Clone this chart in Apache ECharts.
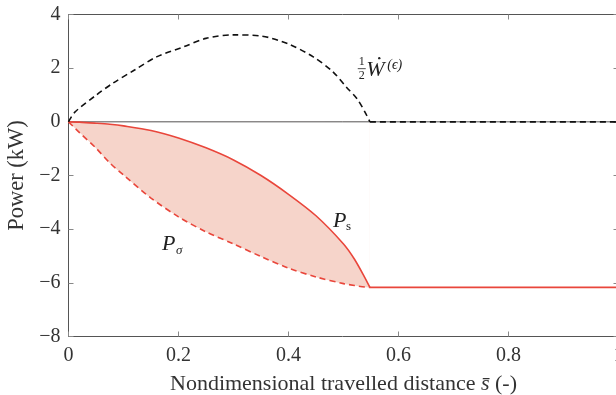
<!DOCTYPE html>
<html><head><meta charset="utf-8">
<script src="https://cdn.jsdelivr.net/npm/echarts@6/dist/echarts.min.js"></script>
<style>html,body{margin:0;padding:0;background:#fff}#c{width:616px;height:395px}</style>
</head><body><div id="c"></div>
<script>
// ---- data ----
const xRed   = [0, 0.02, 0.05, 0.075, 0.1, 0.15, 0.2, 0.25, 0.3, 0.35, 0.4, 0.45, 0.5, 0.52, 0.54, 0.548];
const pS     = [0, -0.01, -0.05, -0.09, -0.15, -0.32, -0.6, -0.97, -1.42, -2.0, -2.7, -3.5, -4.55, -5.12, -5.85, -6.17];
const pSigma = [0, -0.4, -0.98, -1.53, -1.98, -2.84, -3.54, -4.1, -4.55, -5.02, -5.45, -5.78, -6.03, -6.1, -6.16, -6.17];
const xFlat  = [0.548, 1.0];
const pFlat  = [-6.17, -6.17];
const xW     = [0, 0.012, 0.05, 0.08, 0.12, 0.16, 0.21, 0.25, 0.3, 0.35, 0.4, 0.445, 0.48, 0.505, 0.525, 0.542, 0.548];
const halfW  = [0, 0.37, 0.99, 1.43, 1.93, 2.42, 2.8, 3.11, 3.24, 3.2, 2.9, 2.42, 1.88, 1.3, 0.85, 0.25, 0];
const xWFlat = [0.548, 1.0];
const wFlat  = [0, 0];

const RED = '#e9463b', FILL = '#f6d4ca', AX = '#555', TXT = '#333';
const FONT = '"Liberation Serif", "DejaVu Serif", serif';

const zip = (xs, ys) => xs.map((x, i) => [x, ys[i]]);

const chart = echarts.init(document.getElementById('c'), null, {renderer: 'canvas'});
const fmt = v => (v < 0 ? '\u2212' + Math.abs(v) : String(v));
const axisCommon = {
  axisLine: {show: true, onZero: false, lineStyle: {color: AX, width: 1}},
  axisTick: {show: true, inside: true, length: 5, lineStyle: {color: '#888'}},
  splitLine: {show: false}
};
const smoothLine = {type: 'line', symbol: 'none', smooth: 0.3, silent: true};
chart.setOption({
  animation: false,
  grid: {left: 68.5, top: 14.5, right: -2.5, bottom: 58.5, containLabel: false, outerBoundsMode: 'none'},
  xAxis: [
    Object.assign({type: 'value', min: 0, max: 1, interval: 0.2, position: 'bottom',
      name: 'Nondimensional travelled distance {i|s\u0304} (-)', nameLocation: 'middle', nameGap: 37,
      nameTextStyle: {fontFamily: FONT, fontSize: 22, color: TXT, rich: {i: {fontFamily: FONT, fontSize: 22, fontStyle: 'italic', color: TXT}}},
      axisLabel: {fontFamily: FONT, fontSize: 20, color: TXT, margin: 9, formatter: v => fmt(v)}}, axisCommon),
    Object.assign({type: 'value', min: 0, max: 1, interval: 0.2, position: 'top', axisLabel: {show: false}}, axisCommon)
  ],
  yAxis: [
    Object.assign({type: 'value', min: -8, max: 4, interval: 2, position: 'left',
      name: 'Power (kW)', nameLocation: 'middle', nameGap: 39,
      nameTextStyle: {fontFamily: FONT, fontSize: 22.5, color: TXT},
      axisLabel: {fontFamily: FONT, fontSize: 20, color: TXT, margin: 8, formatter: v => fmt(v)}}, axisCommon),
    Object.assign({type: 'value', min: -8, max: 4, interval: 2, position: 'right', axisLabel: {show: false}}, axisCommon)
  ],
  series: [
    // band between P_sigma and P_s: salmon down to P_sigma, then white back up to P_s
    Object.assign({}, smoothLine, {name: 'bandFill', data: zip(xRed, pSigma),
      lineStyle: {opacity: 0}, areaStyle: {color: FILL, opacity: 1}, z: 1}),
    Object.assign({}, smoothLine, {name: 'bandMask', data: zip(xRed, pS),
      lineStyle: {opacity: 0}, areaStyle: {color: '#fff', opacity: 1}, z: 1}),
    {type: 'line', name: 'zero', data: [[0, 0], [1, 0]], symbol: 'none',
      lineStyle: {color: AX, width: 1}, silent: true, z: 2},
    Object.assign({}, smoothLine, {name: 'Psigma', data: zip(xRed, pSigma),
      lineStyle: {color: RED, width: 1.6, type: [6, 4]}, z: 3}),
    Object.assign({}, smoothLine, {name: 'Ps', data: zip(xRed, pS),
      lineStyle: {color: RED, width: 1.6}, z: 4}),
    {type: 'line', name: 'Pflat', data: zip(xFlat, pFlat), symbol: 'none', silent: true,
      lineStyle: {color: RED, width: 1.6}, z: 4},
    Object.assign({}, smoothLine, {name: 'halfW', data: zip(xW, halfW),
      lineStyle: {color: '#111', width: 1.6, type: [6, 4]}, z: 5}),
    {type: 'line', name: 'halfWflat', data: zip(xWFlat, wFlat), symbol: 'none', silent: true,
      lineStyle: {color: '#111', width: 1.6, type: [6, 4]}, z: 5}
  ]
});

// annotations anchored in data coordinates
const P = (x, y) => chart.convertToPixel({gridIndex: 0}, [x, y]);
const a = P(0.525, 2.0);   // 1/2 W label
const b = P(0.481, -3.7);  // P_s label
const c = P(0.17, -4.6);   // P_sigma label
const txt = (x, y, s, size, italic, align) => ({type: 'text', x: x, y: y, silent: true, z: 100,
  style: {text: s, fontFamily: FONT, fontSize: size, fontStyle: italic ? 'italic' : 'normal', fill: '#222',
    align: align || 'left', verticalAlign: 'middle'}});
chart.setOption({graphic: [
  txt(a[0] + 4.5, a[1] - 6, '1', 12, false, 'center'),
  {type: 'line', silent: true, z: 100, shape: {x1: a[0] + 0.5, y1: a[1] + 0.5, x2: a[0] + 8.5, y2: a[1] + 0.5}, style: {stroke: '#222', lineWidth: 0.8}},
  txt(a[0] + 4.5, a[1] + 8, '2', 12, false, 'center'),
  txt(a[0] + 9, a[1] + 2, 'W', 22, true),
  {type: 'circle', silent: true, z: 100, shape: {cx: a[0] + 22, cy: a[1] - 10, r: 1.2}, style: {fill: '#222'}},
  txt(a[0] + 30, a[1] - 3, '(\u03F5)', 14, true),
  txt(b[0], b[1], 'P', 22, true),
  txt(b[0] + 13, b[1] + 5, 's', 13, false),
  txt(c[0], c[1] - 1, 'P', 22, true),
  txt(c[0] + 14, c[1] + 5, '\u03C3', 13, true)
]});
</script></body></html>
